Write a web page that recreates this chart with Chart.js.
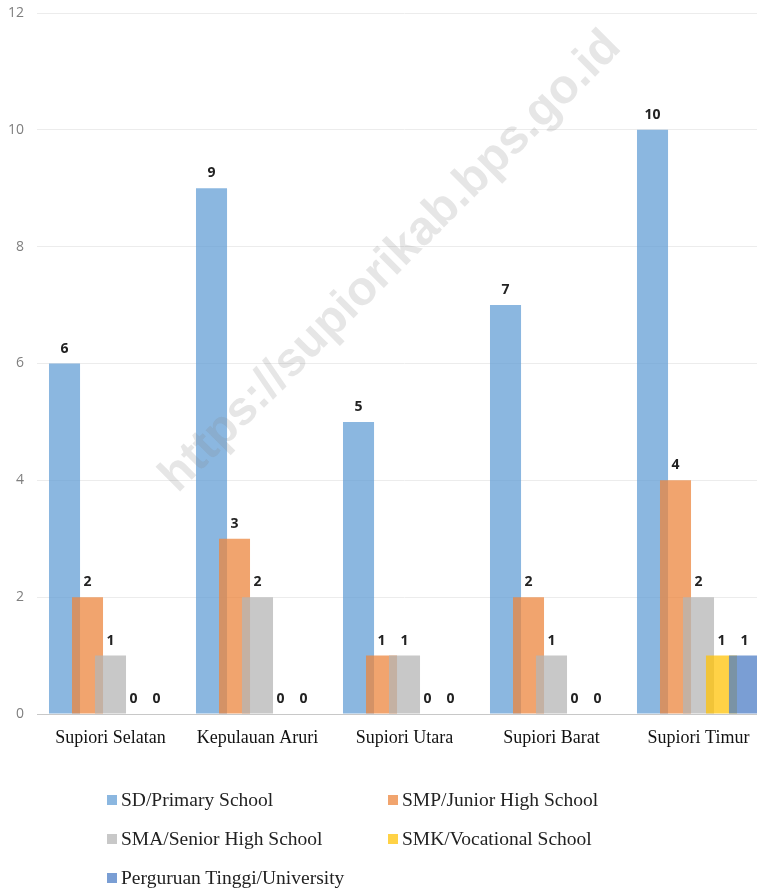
<!DOCTYPE html>
<html>
<head>
<meta charset="utf-8">
<script src="https://cdn.jsdelivr.net/npm/chart.js@4"></script>
<style>
  html, body { margin: 0; padding: 0; background: #fff; }
  #frame { position: relative; width: 757px; height: 889px; overflow: hidden; }
  #plot { position: absolute; left: 0; top: 0; width: 772px; height: 760px; }
  #legend { position: absolute; left: 0; top: 0; width: 757px; height: 889px; pointer-events: none; }
  .item { position: absolute; font-family: "Liberation Serif", "Times New Roman", serif; font-size: 19.5px; line-height: 22px; color: #222; white-space: nowrap; }
  .swatch { position: absolute; width: 10px; height: 10px; }
</style>
</head>
<body>
<div id="frame">
  <div id="plot"><canvas id="c" width="772" height="760"></canvas></div>
  <div id="legend"></div>
</div>
<script>
// Districts of Kabupaten Supiori
const districts = ["Supiori Selatan", "Kepulauan Aruri", "Supiori Utara", "Supiori Barat", "Supiori Timur"];

// Number of schools by level
const primary    = [6, 9, 5, 7, 10];
const juniorHigh = [2, 3, 1, 2, 4];
const seniorHigh = [1, 2, 1, 1, 2];
const vocational = [0, 0, 0, 0, 1];
const university = [0, 0, 0, 0, 1];

const seriesNames = [
  "SD/Primary School",
  "SMP/Junior High School",
  "SMA/Senior High School",
  "SMK/Vocational School",
  "Perguruan Tinggi/University"
];
const seriesColors = [
  "rgba(100,159,214,0.75)",
  "rgba(236,134,62,0.75)",
  "rgba(182,182,182,0.75)",
  "rgba(255,195,8,0.75)",
  "rgba(78,126,198,0.75)"
];
const yTicks = [0, 2, 4, 6, 8, 10, 12];

const seriesValues = [primary, juniorHigh, seniorHigh, vocational, university];

// draw the overlapping bars left to right so each bar sits over its left neighbour
const forwardBars = {
  id: "forwardBars",
  beforeDatasetsDraw(chart) {
    const area = chart.chartArea;
    const ctx = chart.ctx;
    ctx.save();
    ctx.beginPath();
    ctx.rect(area.left, area.top - 1, area.right - area.left, area.bottom - area.top + 1);
    ctx.clip();
    chart.data.datasets.forEach((ds, i) => {
      const meta = chart.getDatasetMeta(i);
      if (!meta.hidden) meta.controller.draw();
    });
    ctx.restore();
    return false;
  }
};

// value labels above each bar
const valueLabels = {
  id: "valueLabels",
  afterDraw(chart) {
    const ctx = chart.ctx;
    ctx.save();
    ctx.font = "bold 14px 'Open Sans', sans-serif";
    ctx.fillStyle = "#222";
    ctx.textAlign = "center";
    ctx.textBaseline = "alphabetic";
    chart.data.datasets.forEach((ds, i) => {
      chart.getDatasetMeta(i).data.forEach((bar, j) => {
        ctx.fillText(String(ds.data[j]), bar.x, bar.y - 11);
      });
    });
    ctx.restore();
  }
};

// site watermark across the plot
const watermark = {
  id: "watermark",
  afterDraw(chart) {
    const ctx = chart.ctx;
    ctx.save();
    ctx.translate(391, 262);
    ctx.rotate(-Math.PI / 4);
    ctx.font = "bold 48px 'Liberation Sans', Arial, sans-serif";
    ctx.fillStyle = "rgba(128,128,128,0.2)";
    ctx.textAlign = "center";
    ctx.textBaseline = "middle";
    ctx.fillText("https://supiorikab.bps.go.id", 0, 0);
    ctx.restore();
  }
};

const chart = new Chart(document.getElementById("c"), {
  type: "bar",
  data: {
    labels: districts,
    datasets: seriesNames.map((name, i) => ({
      label: name,
      data: seriesValues[i],
      backgroundColor: seriesColors[i],
      borderWidth: 0,
      categoryPercentage: 0.782,
      barPercentage: 1.35
    }))
  },
  options: {
    responsive: false,
    animation: false,
    layout: { padding: { top: 13, left: 0, right: 0, bottom: 0 } },
    plugins: {
      legend: { display: false },
      tooltip: { enabled: false }
    },
    scales: {
      x: {
        grid: { display: false, drawTicks: false },
        border: { display: true, color: "#c8c8c8", width: 1 },
        ticks: {
          color: "#111",
          padding: 13,
          maxRotation: 0,
          autoSkip: false,
          font: { family: "'Liberation Serif', 'Times New Roman', serif", size: 18 }
        },
        afterFit(scale) {
          scale.height = 46;
          scale.paddingLeft = 0;
          scale.paddingRight = 0;
        }
      },
      y: {
        min: 0,
        max: 12,
        afterBuildTicks(scale) { scale.ticks = yTicks.map(v => ({ value: v })); },
        grid: {
          drawTicks: false,
          color: c => (c.tick && c.tick.value === 0 ? "#c8c8c8" : "#ececec"),
          lineWidth: 1
        },
        border: { display: false },
        ticks: {
          color: "#7f7f7f",
          padding: 13,
          font: { family: "'Open Sans', sans-serif", size: 14 }
        },
        afterFit(scale) {
          scale.width = 37;
          scale.paddingTop = 0;
          scale.paddingBottom = 0;
        }
      }
    }
  },
  plugins: [forwardBars, valueLabels, watermark]
});

// two-column legend under the plot
const legendBox = document.getElementById("legend");
const legendSlots = [[107, 800], [388, 800], [107, 839], [388, 839], [107, 878]];
chart.data.datasets.forEach((ds, i) => {
  const [x, y] = legendSlots[i];
  const sw = document.createElement("div");
  sw.className = "swatch";
  sw.style.left = x + "px";
  sw.style.top = (y - 5) + "px";
  sw.style.background = ds.backgroundColor;
  legendBox.appendChild(sw);
  const tx = document.createElement("div");
  tx.className = "item";
  tx.style.left = (x + 14) + "px";
  tx.style.top = (y - 11) + "px";
  tx.textContent = ds.label;
  legendBox.appendChild(tx);
});
</script>
</body>
</html>
